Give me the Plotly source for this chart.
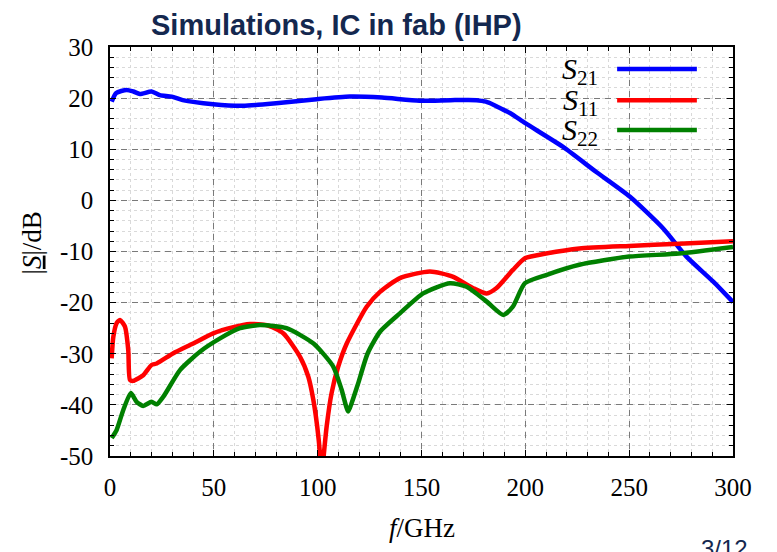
import plotly.graph_objects as go

# ---------------- data ----------------
f_s21 = [0.8, 3, 8, 11.2, 14.4, 20, 24, 29.7, 35, 49.7, 64, 80, 99.5, 115.5, 131, 149, 164,
         176.5, 181, 184.6, 188, 192.6, 200, 218, 234, 250.4, 266.4, 277.6, 290.5, 300]
s21 = [19.3, 21.0, 21.6, 21.3, 20.8, 21.3, 20.6, 20.3, 19.6, 18.8, 18.5, 19.0, 19.8, 20.3, 20.1,
       19.5, 19.6, 19.6, 19.3, 18.7, 18.0, 17.1, 15.1, 10.5, 5.6, 0.7, -5.5, -11.0, -15.9, -19.9]

f_s11 = [0.8, 1.6, 3.2, 4.8, 7.2, 8.8, 9.6, 11.2, 16, 20, 22.5, 30.5, 40, 49.7, 59.4, 67.4, 75.4,
         83.4, 91.5, 95.5, 97.9, 99.8, 101.1, 101.6, 102.4, 103.0, 104.3, 106.7, 109.9, 114, 123.6,
         130, 139.6, 154, 165, 175, 181.4, 186, 194, 199.8, 210, 226, 250, 274, 300]
s11 = [-30.9, -26.7, -24.0, -23.4, -24.7, -29.3, -35.1, -35.3, -34.2, -32.2, -31.9, -29.9, -28.0,
       -26.0, -24.8, -24.2, -24.4, -26.0, -30.6, -34.5, -39.0, -44.3, -49.5, -53.0, -52.0, -49.5,
       -44.3, -37.7, -32.5, -28.0, -20.8, -17.9, -15.2, -13.9, -14.9, -17.2, -18.2, -17.2, -13.6,
       -11.3, -10.4, -9.4, -8.9, -8.5, -8.0]

f_s22 = [0.8, 3.2, 6.4, 10, 12.8, 16, 20, 22.5, 25.7, 33.7, 43.3, 53, 62.6, 72.2, 85, 98, 107.5,
         111.5, 114.7, 116.5, 119.5, 124, 130, 139.6, 150.8, 163.7, 171.7, 181.4, 189.4, 194,
         199.8, 210, 226, 250, 274, 300]
s22 = [-46.5, -44.9, -41.0, -37.7, -39.4, -40.2, -39.4, -39.9, -38.4, -33.2, -29.6, -27.0, -25.0,
       -24.4, -25.0, -28.0, -32.5, -37.0, -41.3, -39.5, -35.8, -30.0, -25.7, -22.1, -18.2, -16.2,
       -16.9, -19.8, -22.4, -20.8, -16.2, -14.6, -12.6, -11.0, -10.4, -9.1]

series_names = ["<i>S</i><sub>21</sub>", "<i>S</i><sub>11</sub>", "<i>S</i><sub>22</sub>"]
series_colors = ["#0000ff", "#ff0000", "#008000"]

x_ticks = [0, 50, 100, 150, 200, 250, 300]
y_ticks = [30, 20, 10, 0, -10, -20, -30, -40, -50]

# ---------------- figure ----------------
SERIF = "Liberation Serif"
NAVY = "#14284f"

fig = go.Figure()
for (fx, fy), name, col in zip([(f_s21, s21), (f_s11, s11), (f_s22, s22)],
                               series_names, series_colors):
    fig.add_trace(go.Scatter(x=fx, y=fy, mode="lines", name=name,
                             line=dict(color=col, width=4.5, shape="spline", smoothing=0.6),
                             showlegend=False))

axis_common = dict(
    showline=True, linecolor="black", linewidth=1.5, mirror="ticks",
    ticks="inside", ticklen=6, tickwidth=1, tickcolor="black",
    showgrid=True, gridcolor="#7a7a7a", gridwidth=1, griddash="6px,5px",
    zeroline=False,
    tickfont=dict(family=SERIF, size=25, color="black"),
)

fig.update_xaxes(range=[0, 300], tickvals=x_ticks, ticktext=[str(v) for v in x_ticks],
                 minor=dict(dtick=10, tick0=0, ticks="inside", ticklen=4, tickcolor="black",
                            showgrid=True, gridcolor="#d9d9d9", griddash="dot", gridwidth=1),
                 ticklabelstandoff=8, **axis_common)
fig.update_yaxes(range=[-50, 30], tickvals=y_ticks, ticktext=[str(v) for v in y_ticks],
                 minor=dict(dtick=2, tick0=0, ticks="inside", ticklen=4, tickcolor="black",
                            showgrid=True, gridcolor="#d9d9d9", griddash="dot", gridwidth=1),
                 ticklabelstandoff=10, **axis_common)

# legend box (manual, text left of the line sample)
fig.add_shape(type="rect", xref="paper", yref="paper", x0=0.698, x1=0.966, y0=0.755, y1=0.980,
              fillcolor="white", line=dict(width=0), layer="between")
leg_y = [0.946, 0.870, 0.797]
for name, col, ly in zip(series_names, series_colors, leg_y):
    fig.add_shape(type="line", xref="paper", yref="paper", x0=0.814, x1=0.942, y0=ly, y1=ly,
                  line=dict(color=col, width=4.5))
    fig.add_annotation(text=name, xref="paper", yref="paper", x=0.786, y=ly - 0.005,
                       xanchor="right", yanchor="middle", showarrow=False,
                       font=dict(family=SERIF, size=30, color="black"))

# axis titles
fig.add_annotation(text="<i>f</i>/GHz", xref="paper", yref="paper", x=0.5, y=-0.176,
                   xanchor="center", yanchor="middle", showarrow=False,
                   font=dict(family=SERIF, size=27, color="black"))
fig.add_annotation(text="|<u><i>S</i></u>|/dB", xref="paper", yref="paper", x=-0.125, y=0.52,
                   xanchor="center", yanchor="middle", showarrow=False, textangle=-90,
                   font=dict(family=SERIF, size=27, color="black"))

# slide title and page number
fig.add_annotation(text="<b>Simulations, IC in fab (IHP)</b>", xref="paper", yref="paper",
                   x=0.363, y=1.054, xanchor="center", yanchor="middle", showarrow=False,
                   font=dict(family="Liberation Sans", size=29, color=NAVY))
fig.add_annotation(text="3/12", xref="paper", yref="paper", x=0.986, y=-0.225,
                   xanchor="center", yanchor="middle", showarrow=False,
                   font=dict(family="Liberation Sans", size=24, color=NAVY))

# the page adds an 8 px body margin, so the figure is 8 px smaller and margins shifted
fig.update_layout(
    width=769, height=544,
    margin=dict(l=102, r=44, t=39, b=96),
    paper_bgcolor="white", plot_bgcolor="white",
    showlegend=False,
)

fig.write_html("out.html")
